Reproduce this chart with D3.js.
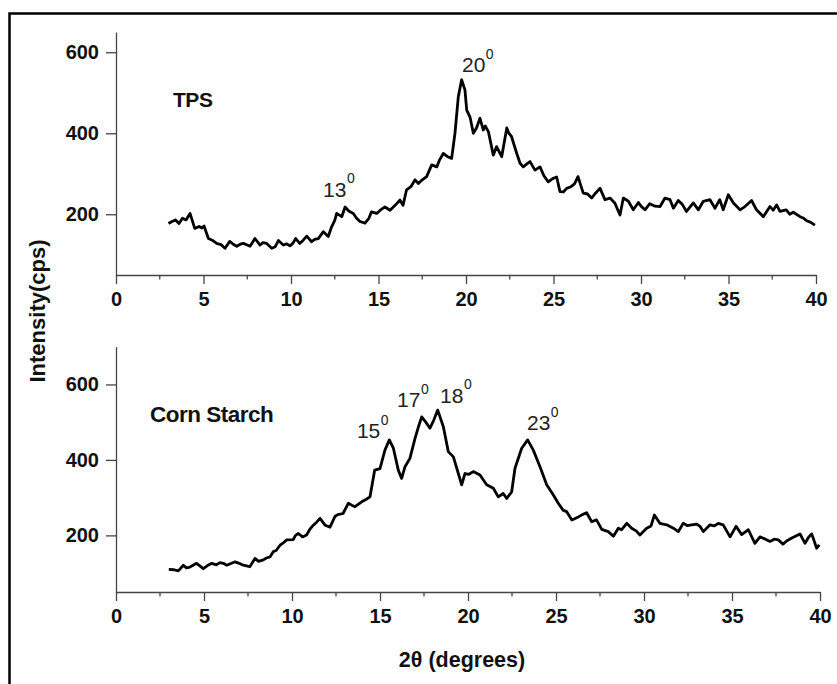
<!DOCTYPE html>
<html>
<head>
<meta charset="utf-8">
<script src="https://cdn.jsdelivr.net/npm/d3@7"></script>
<style>
  html, body { margin: 0; padding: 0; background: #fff; }
  svg { display: block; font-family: "Liberation Sans", Arial, sans-serif; }
</style>
</head>
<body>
<svg id="chart" width="837" height="684"></svg>
<script>
// ---------------- DATA ----------------
const tpsX = [3.0,3.2,3.4,3.6,3.8,4.0,4.23,4.5,4.75,4.9,5.03,5.28,5.5,5.75,6.0,6.23,6.5,6.7,6.9,7.1,7.28,7.5,7.66,7.94,8.23,8.4,8.61,8.9,9.1,9.28,9.56,9.75,9.94,10.1,10.27,10.5,10.7,10.9,11.18,11.35,11.56,11.85,12.13,12.32,12.5,12.61,12.9,13.09,13.3,13.56,13.75,13.94,14.23,14.45,14.6,14.9,15.1,15.37,15.66,15.95,16.23,16.4,16.6,16.85,17.09,17.28,17.5,17.75,18.04,18.33,18.5,18.7,18.95,19.18,19.37,19.56,19.75,19.94,20.04,20.23,20.42,20.6,20.8,20.99,21.1,21.28,21.56,21.75,22.04,22.33,22.45,22.6,22.9,23.09,23.27,23.5,23.66,23.94,24.23,24.45,24.7,24.95,25.18,25.37,25.56,25.75,26.0,26.2,26.4,26.7,26.95,27.18,27.4,27.66,27.94,28.23,28.5,28.8,28.99,29.28,29.56,29.85,30.0,30.23,30.5,30.8,31.09,31.37,31.66,31.85,32.13,32.35,32.6,32.99,33.28,33.56,33.94,34.23,34.5,34.7,34.99,35.28,35.66,35.94,36.32,36.6,36.99,37.37,37.55,37.75,37.94,38.3,38.5,38.7,39.09,39.3,39.47,39.7,39.94];
const tpsY = [177,182,186,177,190,186,202,165,170,166,171,140,136,128,125,116,133,126,121,126,128,124,121,140,124,130,128,116,120,135,124,127,122,128,140,128,136,146,132,138,140,157,145,169,185,202,194,218,208,202,190,182,178,190,206,202,210,218,210,222,235,222,260,268,285,276,285,293,322,317,335,350,342,338,400,490,532,507,457,440,400,413,437,408,418,404,346,367,342,413,400,392,350,326,317,325,330,309,317,295,280,288,292,256,255,264,268,275,293,252,250,240,252,264,236,240,228,198,240,232,211,229,220,211,226,220,219,240,236,215,234,225,207,228,211,232,236,215,236,211,248,228,211,219,234,211,194,219,210,223,207,211,200,205,194,190,184,180,173];

const cornX = [3.0,3.3,3.54,3.83,4.0,4.2,4.58,4.96,5.2,5.44,5.7,5.9,6.1,6.29,6.5,6.76,7.0,7.23,7.6,7.9,8.1,8.37,8.55,8.75,8.94,9.1,9.32,9.5,9.7,10.07,10.2,10.36,10.6,10.83,11.0,11.21,11.4,11.59,11.88,12.16,12.44,12.6,12.9,13.2,13.4,13.58,13.96,14.2,14.43,14.7,15.0,15.28,15.53,15.76,16.04,16.23,16.42,16.7,16.99,17.2,17.37,17.6,17.84,18.05,18.28,18.6,18.88,19.17,19.45,19.64,19.83,20.05,20.3,20.68,21.06,21.44,21.72,22.0,22.2,22.48,22.67,23.05,23.39,23.71,24.09,24.47,24.85,25.13,25.4,25.6,25.9,26.27,26.5,26.74,27.03,27.3,27.6,27.97,28.26,28.54,28.73,29.02,29.3,29.55,29.77,30.15,30.4,30.59,30.9,31.29,31.67,31.95,32.23,32.45,32.71,33.0,33.18,33.37,33.75,34.0,34.22,34.5,34.89,35.23,35.55,35.93,36.3,36.59,36.9,37.16,37.4,37.63,37.9,38.1,38.4,38.86,39.15,39.35,39.53,39.81,39.96];
const cornY = [110,109,106,121,114,116,126,112,120,126,122,128,126,121,125,130,126,121,117,139,131,135,140,143,157,160,174,180,188,189,200,205,196,201,215,227,235,245,227,222,250,255,258,285,280,276,289,295,302,373,377,426,453,431,373,351,382,404,457,490,514,500,484,505,532,488,422,408,364,334,364,362,369,360,334,325,302,311,298,315,378,431,453,426,382,334,307,285,267,263,241,249,255,260,236,241,216,210,198,219,215,232,219,212,201,219,225,254,232,228,219,210,232,226,228,230,224,210,228,225,232,228,196,224,202,215,179,196,190,184,190,188,177,185,193,204,179,195,204,166,175];

const xTicksMajor = [0,5,10,15,20,25,30,35,40];
const xTicksMinor = [2.5,7.5,12.5,17.5,22.5,27.5,32.5,37.5];
const yTicks = [200,400,600];

const topLabel = {text: "TPS", x: 3.26, y: 464};
const bottomLabel = {text: "Corn Starch", x: 1.93, y: 501};
const topPeaks = [{text: "13", x: 11.83, y: 243}, {text: "20", x: 19.77, y: 551}];
const bottomPeaks = [{text: "15", x: 13.69, y: 458}, {text: "17", x: 15.97, y: 540}, {text: "18", x: 18.41, y: 551}, {text: "23", x: 23.35, y: 479}];

const xTitle = "2θ (degrees)";
const yTitle = "Intensity(cps)";

// ---------------- DRAW ----------------
const svg = d3.select("#chart");
svg.append("rect").attr("width", 837).attr("height", 684).attr("fill", "#fff");

// outer frame
svg.append("path").attr("d", "M9.5,684 L9.5,13.5 L837,13.5")
  .attr("fill", "none").attr("stroke", "#000").attr("stroke-width", 2.5);

const panels = [
  {xs: tpsX, ys: tpsY, xr: [116, 816], yd: [50, 650], yr: [275, 32], label: topLabel, lsize: 21, peaks: topPeaks},
  {xs: cornX, ys: cornY, xr: [116, 820], yd: [50, 700], yr: [592, 346.7], label: bottomLabel, lsize: 22.5, peaks: bottomPeaks}
];

panels.forEach(p => {
  const x = d3.scaleLinear().domain([0, 40]).range(p.xr);
  const y = d3.scaleLinear().domain(p.yd).range(p.yr);
  const g = svg.append("g");
  const base = p.yr[0];

  // x axis (major)
  const xa = g.append("g").attr("transform", `translate(0,${base})`)
    .call(d3.axisBottom(x).tickValues(xTicksMajor).tickSize(9).tickSizeOuter(0).tickPadding(8).tickFormat(d3.format("d")));
  // minor ticks
  g.append("g").attr("transform", `translate(0,${base})`)
    .selectAll("line").data(xTicksMinor).join("line")
    .attr("x1", d => x(d)).attr("x2", d => x(d)).attr("y1", 0).attr("y2", 4.5)
    .attr("stroke", "#444").attr("stroke-width", 1.3);

  // y axis
  const ya = g.append("g").attr("transform", `translate(${p.xr[0]},0)`)
    .call(d3.axisLeft(y).tickValues(yTicks).tickSize(10).tickSizeOuter(0).tickPadding(7).tickFormat(d3.format("d")));

  [xa, ya].forEach(a => {
    a.select(".domain").attr("stroke", "#444").attr("stroke-width", 1.3);
    a.selectAll(".tick line").attr("stroke", "#444").attr("stroke-width", 1.3);
    a.selectAll(".tick text").attr("fill", "#111").attr("font-size", 20).attr("font-weight", "bold")
      .attr("font-family", "Liberation Sans, Arial, sans-serif");
  });

  // curve
  const pts = p.xs.map((d, i) => [d, p.ys[i]]);
  g.append("path").datum(pts)
    .attr("d", d3.line().x(d => x(d[0])).y(d => y(d[1])))
    .attr("fill", "none").attr("stroke", "#000").attr("stroke-width", 2.8)
    .attr("stroke-linejoin", "round");

  // panel label
  g.append("text").attr("x", x(p.label.x)).attr("y", y(p.label.y))
    .attr("font-size", p.lsize).attr("font-weight", "bold").attr("fill", "#111")
    .attr("letter-spacing", "-0.5").text(p.label.text);

  // peak annotations
  p.peaks.forEach(pk => {
    const t = g.append("text").attr("x", x(pk.x)).attr("y", y(pk.y))
      .attr("font-size", 21).attr("fill", "#222");
    t.append("tspan").text(pk.text);
    t.append("tspan").attr("font-size", 14).attr("dy", -13.5).attr("dx", 0.5).text("0");
  });
});

// axis titles
svg.append("text").attr("x", 462).attr("y", 667).attr("text-anchor", "middle")
  .attr("font-size", 21.5).attr("font-weight", "bold").attr("fill", "#111").text(xTitle);
svg.append("text").attr("transform", "translate(45,311) rotate(-90)").attr("text-anchor", "middle")
  .attr("font-size", 22).attr("font-weight", "bold").attr("fill", "#111").text(yTitle);
</script>
</body>
</html>
